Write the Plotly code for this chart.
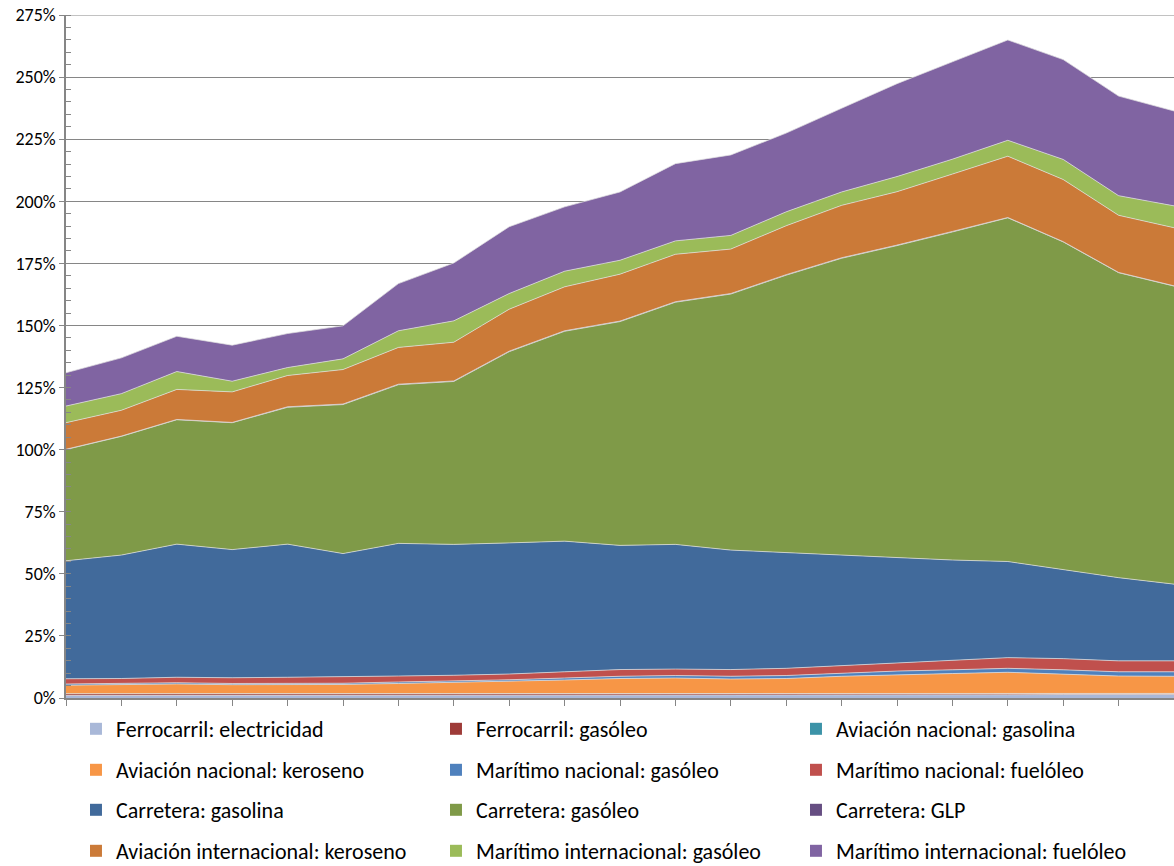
import plotly.graph_objects as go

years = list(range(1990, 2011))

series_names = [
    "Ferrocarril: electricidad", "Ferrocarril: gasóleo", "Aviación nacional: gasolina",
    "Aviación nacional: keroseno", "Marítimo nacional: gasóleo", "Marítimo nacional: fuelóleo",
    "Carretera: gasolina", "Carretera: gasóleo", "Carretera: GLP",
    "Aviación internacional: keroseno", "Marítimo internacional: gasóleo", "Marítimo internacional: fuelóleo",
]

ferro_elec = [1.0, 1.0, 1.0, 1.0, 1.0, 1.0, 1.0, 1.0, 1.0, 1.1, 1.1, 1.1, 1.1, 1.2, 1.2, 1.2, 1.3, 1.3, 1.4, 1.4, 1.4]
ferro_gas = [0.7, 0.7, 0.7, 0.6, 0.6, 0.6, 0.6, 0.6, 0.6, 0.6, 0.5, 0.5, 0.5, 0.5, 0.5, 0.5, 0.5, 0.4, 0.4, 0.4, 0.4]
avnac_gasolina = [0.05, 0.05, 0.05, 0.05, 0.05, 0.05, 0.05, 0.05, 0.05, 0.05, 0.05, 0.05, 0.05, 0.05, 0.05, 0.05, 0.05, 0.05, 0.05, 0.05, 0.05]
avnac_keroseno = [3.4, 3.5, 3.9, 3.7, 3.7, 3.8, 4.2, 4.6, 5.0, 5.5, 6.2, 6.4, 6.0, 6.1, 7.0, 7.7, 8.0, 8.6, 7.8, 7.0, 6.9]
marnac_gasoleo = [0.5, 0.5, 0.5, 0.5, 0.5, 0.5, 0.6, 0.6, 0.7, 0.8, 0.9, 1.0, 1.1, 1.2, 1.3, 1.4, 1.5, 1.6, 1.7, 1.7, 1.8]
marnac_fuel = [2.1, 2.1, 2.2, 2.3, 2.5, 2.5, 2.4, 2.3, 2.3, 2.5, 2.7, 2.6, 2.7, 2.9, 3.0, 3.2, 3.6, 4.3, 4.5, 4.4, 4.4]
carr_gasolina = [47.5, 49.7, 53.6, 51.6, 53.6, 49.7, 53.4, 52.7, 52.8, 52.6, 50.0, 50.2, 48.1, 46.6, 44.4, 42.4, 40.6, 38.7, 35.9, 33.5, 30.9]
carr_gasoleo = [44.8, 47.8, 50.1, 51.1, 55.1, 60.0, 63.9, 65.6, 77.0, 84.5, 90.1, 97.5, 103.1, 111.7, 119.6, 125.7, 132.1, 138.4, 131.9, 122.8, 120.0]
carr_glp = [0.1, 0.1, 0.1, 0.1, 0.2, 0.2, 0.2, 0.2, 0.2, 0.2, 0.2, 0.2, 0.2, 0.2, 0.2, 0.2, 0.2, 0.1, 0.1, 0.1, 0.1]
avint_keroseno = [10.7, 10.4, 12.1, 12.3, 12.6, 13.9, 14.8, 15.6, 16.9, 17.7, 18.9, 19.1, 17.9, 19.7, 21.1, 21.5, 23.1, 24.7, 25.0, 23.0, 23.4]
marint_gasoleo = [6.7, 6.7, 7.2, 4.3, 3.2, 4.3, 6.7, 8.6, 6.3, 6.3, 5.6, 5.4, 5.5, 5.6, 5.4, 6.1, 6.0, 6.4, 8.1, 7.9, 8.8]
marint_fuel = [13.4, 14.4, 14.2, 14.5, 13.7, 13.3, 19.0, 23.3, 26.9, 25.9, 27.5, 31.1, 32.4, 31.7, 33.7, 37.4, 39.2, 40.4, 40.2, 40.1, 38.2]

y_ticks = [0, 25, 50, 75, 100, 125, 150, 175, 200, 225, 250, 275]

series_values = [ferro_elec, ferro_gas, avnac_gasolina, avnac_keroseno, marnac_gasoleo, marnac_fuel,
                 carr_gasolina, carr_gasoleo, carr_glp, avint_keroseno, marint_gasoleo, marint_fuel]
colors = ["#A9B8D8", "#9E3B38", "#3C93A8", "#F79646", "#4F81BD", "#C0504D",
          "#416A9B", "#7F9A48", "#664E82", "#CB7A38", "#9BBB59", "#8064A2"]

legend_ids = ["legend", "legend2", "legend3", "legend4"]

fig = go.Figure()
for i, (name, vals, col) in enumerate(zip(series_names, series_values, colors)):
    fig.add_trace(go.Scatter(
        x=years, y=vals, name=name, mode="lines",
        stackgroup="one", fillcolor=col,
        line=dict(width=0.8, color="rgba(225,225,225,0.9)"),
        showlegend=False, hoverinfo="skip",
    ))
# legend swatches (square markers like the reference)
for i, (name, col) in enumerate(zip(series_names, colors)):
    fig.add_trace(go.Bar(
        x=[None], y=[None], name=name, marker=dict(color=col, line=dict(width=0)),
        showlegend=True, legend=legend_ids[i // 3], hoverinfo="skip",
    ))

W, H = 1174, 866
plot_left, plot_top, plot_bottom = 66, 15, 698
plot_h = plot_bottom - plot_top

font_family = "Carlito, Calibri, Lato, sans-serif"
leg_common = dict(orientation="h", traceorder="normal", x=0.009, xanchor="left",
                  yanchor="middle", entrywidth=315, entrywidthmode="pixels",
                  font=dict(family=font_family, size=22, color="#000000"),
                  bgcolor="rgba(0,0,0,0)", itemclick=False, itemdoubleclick=False)
row_y = [729, 770, 810, 851]
layout_legends = {}
for lid, ry in zip(legend_ids, row_y):
    d = dict(leg_common)
    d["y"] = (plot_bottom - ry) / plot_h
    layout_legends[lid] = d

fig.update_layout(
    width=W, height=H,
    margin=dict(l=plot_left, r=0, t=plot_top, b=H - plot_bottom, autoexpand=False),
    paper_bgcolor="white", plot_bgcolor="white",
    showlegend=True,
    font=dict(family=font_family, color="#000000"),
    xaxis=dict(
        range=[1990, 2010], tickmode="linear", tick0=1990, dtick=1,
        showticklabels=False, ticks="outside", ticklen=6, tickcolor="#868686",
        showgrid=False, showline=True, linecolor="#868686", linewidth=1.5,
        zeroline=False, automargin=False,
    ),
    yaxis=dict(
        range=[0, 275], tickvals=y_ticks, ticktext=[f"{v}%" for v in y_ticks],
        ticks="outside", ticklen=5, tickcolor="#868686",
        tickfont=dict(family=font_family, size=18, color="#000000"),
        ticklabeloverflow="allow",
        showgrid=True, gridcolor="#868686", gridwidth=1,
        showline=True, linecolor="#868686", linewidth=1.5, zeroline=False,
        automargin=False,
        minor=dict(dtick=5, tick0=0, ticks="inside", ticklen=5, tickcolor="#868686", showgrid=False),
    ),
    **layout_legends,
)
# top gridline at the 275% boundary (plotly drops gridlines at the axis edge)
fig.add_hline(y=y_ticks[-1], line=dict(color="#868686", width=1))

# remove the default 8px page margin so the figure fills the window exactly
fig.write_html("out.html", config={"displayModeBar": False},
               post_script="document.body.style.margin='0';")
